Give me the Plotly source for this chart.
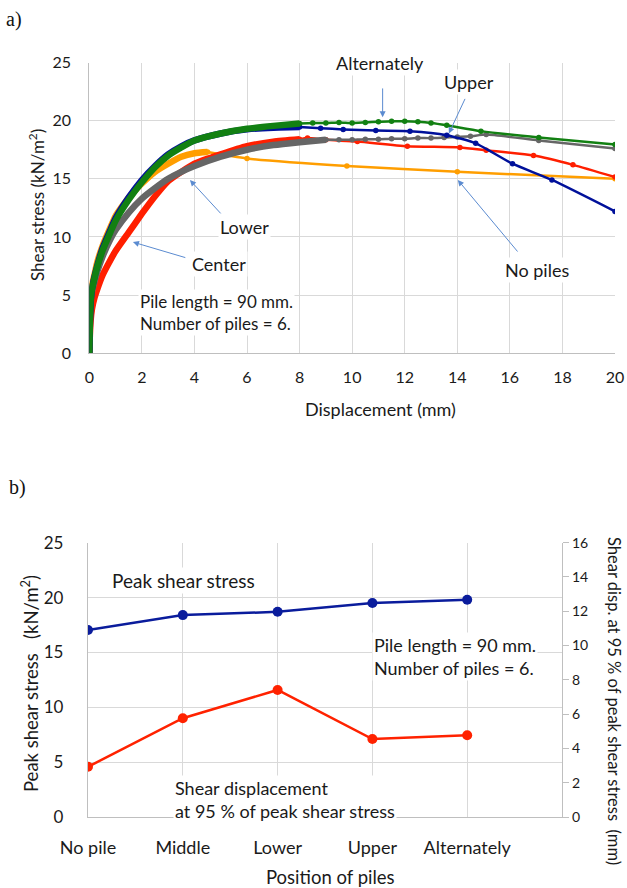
import plotly.graph_objects as go

# ---------------- Panel a) data: shear stress vs displacement ----------------
# dense (early, step-like) portion of each curve
nopile_dense_x = [0, 0.02, 0.05, 0.1, 0.2, 0.3, 0.5, 0.8, 1.0, 1.5, 2.0, 2.5, 3.0, 3.5, 4.0, 4.5]
nopile_dense_y = [0, 2.5, 4.5, 5.8, 6.8, 7.8, 9.2, 10.8, 11.8, 13.4, 14.6, 15.6, 16.3, 16.9, 17.2, 17.3]
nopile_x = [4.5, 6.0, 9.8, 14.0, 20.0]
nopile_y = [17.3, 16.75, 16.1, 15.6, 15.0]

center_dense_x = [0, 0.02, 0.05, 0.1, 0.2, 0.3, 0.5, 0.8, 1.0, 1.5, 2.0, 2.5, 3.0, 3.5, 4.0, 5.0, 6.0, 7.0, 8.0]
center_dense_y = [0, 1.5, 2.8, 3.8, 4.8, 5.5, 6.7, 8.0, 8.8, 10.4, 12.0, 13.5, 14.8, 15.6, 16.3, 17.1, 17.8, 18.2, 18.4]
center_x = [8.0, 8.3, 9.0, 10.2, 12.1, 14.1, 15.1, 16.9, 18.4, 20.0]
center_y = [18.4, 18.5, 18.35, 18.2, 17.8, 17.7, 17.45, 17.0, 16.2, 15.15]

lower_dense_x = [0, 0.02, 0.05, 0.1, 0.2, 0.3, 0.5, 0.8, 1.0, 1.5, 2.0, 2.5, 3.0, 3.5, 4.0, 5.0, 6.0, 7.0, 8.0, 9.0]
lower_dense_y = [0, 3.5, 4.5, 5.3, 6.2, 7.0, 8.3, 9.8, 10.6, 12.1, 13.3, 14.2, 15.0, 15.6, 16.1, 16.9, 17.5, 17.9, 18.15, 18.35]
lower_x = [9.0, 9.5, 10.0, 10.5, 11.0, 11.5, 12.0, 12.5, 13.0, 13.5, 14.0, 14.5, 15.1, 17.1, 20.0]
lower_y = [18.35, 18.35, 18.35, 18.4, 18.4, 18.45, 18.45, 18.5, 18.5, 18.55, 18.6, 18.65, 18.8, 18.3, 17.6]

upper_dense_x = [0, 0.02, 0.05, 0.1, 0.2, 0.3, 0.5, 0.8, 1.0, 1.5, 2.0, 2.5, 3.0, 3.5, 4.0, 5.0, 6.0, 7.0, 8.0]
upper_dense_y = [0, 2.3, 4.3, 5.5, 6.6, 7.5, 9.0, 10.6, 11.6, 13.4, 14.9, 16.1, 17.1, 17.8, 18.3, 18.9, 19.25, 19.4, 19.45]
upper_x = [8.0, 8.8, 9.66, 10.9, 12.2, 13.6, 14.7, 16.1, 17.6, 20.0]
upper_y = [19.45, 19.35, 19.25, 19.15, 19.1, 18.75, 18.05, 16.3, 14.9, 12.2]

alt_dense_x = [0, 0.02, 0.05, 0.1, 0.2, 0.3, 0.5, 0.8, 1.0, 1.5, 2.0, 2.5, 3.0, 3.5, 4.0, 5.0, 6.0, 7.0, 8.0]
alt_dense_y = [0, 2.5, 4.5, 5.5, 6.5, 7.4, 8.8, 10.4, 11.4, 13.2, 14.7, 16.0, 17.0, 17.7, 18.3, 18.9, 19.3, 19.55, 19.75]
alt_x = [8.0, 8.5, 9.0, 9.5, 10.0, 10.5, 11.0, 11.5, 12.0, 12.5, 13.0, 13.6, 14.9, 17.1, 20.0]
alt_y = [19.75, 19.8, 19.8, 19.85, 19.8, 19.85, 19.9, 19.95, 19.95, 19.9, 19.8, 19.6, 19.1, 18.55, 17.95]

# ---------------- Panel b) data ----------------
positions = ["No pile", "Middle", "Lower", "Upper", "Alternately"]
position_idx = [0, 1, 2, 3, 4]
peak_shear_stress = [17.05, 18.4, 18.7, 19.5, 19.8]
disp_95 = [2.93, 5.76, 7.41, 4.55, 4.77]

FONT = "Lato"
GRID = "#d9d9d9"
AXL = "#bfbfbf"

C_OR = "#ff9e00"
C_RD = "#ff1f00"
C_GY = "#666666"
C_BL = "#00109a"
C_GN = "#128012"

W = 627.0
H = 888.0

def fx(px):
    return px / W

def fy(py):
    return 1 - py / H

fig = go.Figure()

def add_curve(dx, dy, sx, sy, color):
    fig.add_trace(go.Scatter(x=sx, y=sy, mode="lines+markers",
                             line=dict(color=color, width=2.5, shape="spline", smoothing=0.6),
                             marker=dict(color=color, size=5.5),
                             xaxis="x", yaxis="y", showlegend=False, hoverinfo="skip"))
    fig.add_trace(go.Scatter(x=dx, y=dy, mode="lines",
                             line=dict(color=color, width=6.5, shape="spline", smoothing=0.5),
                             xaxis="x", yaxis="y", showlegend=False, hoverinfo="skip"))

add_curve(nopile_dense_x, nopile_dense_y, nopile_x, nopile_y, C_OR)
add_curve(center_dense_x, center_dense_y, center_x, center_y, C_RD)
add_curve(lower_dense_x, lower_dense_y, lower_x, lower_y, C_GY)
add_curve(upper_dense_x, upper_dense_y, upper_x, upper_y, C_BL)
add_curve(alt_dense_x, alt_dense_y, alt_x, alt_y, C_GN)

# bottom chart
fig.add_trace(go.Scatter(x=position_idx, y=peak_shear_stress, mode="lines+markers",
                         line=dict(color="#0a1c9c", width=2.5), marker=dict(color="#0a1c9c", size=10),
                         xaxis="x2", yaxis="y2", showlegend=False, hoverinfo="skip"))
fig.add_trace(go.Scatter(x=position_idx, y=disp_95, mode="lines+markers",
                         line=dict(color="#ff2200", width=2.5), marker=dict(color="#ff2200", size=10),
                         xaxis="x2", yaxis="y3", showlegend=False, hoverinfo="skip"))

fig.update_layout(
    width=int(W), height=int(H),
    margin=dict(l=0, r=0, t=0, b=0, autoexpand=False),
    paper_bgcolor="white", plot_bgcolor="white",
    font=dict(family=FONT, color="#1a1a1a"),
    xaxis=dict(domain=[fx(89.3), fx(615)], range=[0, 20], dtick=2, tick0=0, automargin=False,
               showgrid=True, gridcolor=GRID, gridwidth=1.3, zeroline=False,
               showline=True, linecolor=AXL, linewidth=1.3, ticklabeloverflow="allow",
               ticks="outside", ticklen=9, tickcolor="rgba(0,0,0,0)",
               tickfont=dict(size=16), anchor="y"),
    yaxis=dict(domain=[fy(353.3), fy(62.5)], range=[0, 25], dtick=5, tick0=0, automargin=False,
               showgrid=True, gridcolor=GRID, gridwidth=1.3, zeroline=False,
               showline=True, linecolor=AXL, linewidth=1.3, ticklabeloverflow="allow",
               ticks="outside", ticklen=14, tickcolor="rgba(0,0,0,0)",
               tickfont=dict(size=16), anchor="x"),
    xaxis2=dict(domain=[fx(88), fx(562)], range=[0, 5], automargin=False,
                tickmode="array", tickvals=position_idx, ticktext=positions,
                showgrid=True, gridcolor=GRID, gridwidth=1.3, zeroline=False,
                showline=True, linecolor=AXL, linewidth=1.3, ticklabeloverflow="allow",
                ticks="outside", ticklen=14, tickcolor="rgba(0,0,0,0)",
                tickfont=dict(size=18), anchor="y2"),
    yaxis2=dict(domain=[fy(817), fy(542.7)], range=[0, 25], dtick=5, tick0=0, automargin=False,
                showgrid=True, gridcolor=GRID, gridwidth=1.3, zeroline=False,
                showline=True, linecolor=AXL, linewidth=1.3, ticklabeloverflow="allow",
                ticks="outside", ticklen=20, tickcolor="rgba(0,0,0,0)",
                tickfont=dict(size=17), anchor="x2"),
    yaxis3=dict(domain=[fy(817), fy(542.7)], range=[0, 16], dtick=2, tick0=0, automargin=False,
                overlaying="y2", side="right", anchor="x2",
                showgrid=False, zeroline=False, ticklabeloverflow="allow",
                showline=True, linecolor=AXL, linewidth=1.3,
                ticks="outside", ticklen=6, tickcolor=AXL,
                tickfont=dict(size=14)),
)

ARROW = "#5b8bd0"
ann = []

def txt(x, y, text, size=14, xref="x", yref="y", xanchor="center", align="center", bg="white", **kw):
    ann.append(dict(x=x, y=y, xref=xref, yref=yref, text=text, showarrow=False,
                    font=dict(size=size, family=FONT, color="#1a1a1a"),
                    xanchor=xanchor, yanchor="middle", align=align, bgcolor=bg, **kw))

def arrow(tx, ty, hx, hy, xref="x", yref="y"):
    ann.append(dict(x=hx, y=hy, ax=tx, ay=ty, xref=xref, yref=yref, axref=xref, ayref=yref,
                    text="", showarrow=True, arrowhead=2, arrowsize=1.2, arrowwidth=1,
                    arrowcolor=ARROW, standoff=0, startstandoff=0))

# panel a annotations
txt(11.05, 24.95, "Alternately", size=18)
arrow(11.16, 22.9, 11.16, 20.3)
txt(14.43, 23.3, "Upper", size=18)
arrow(14.32, 22.0, 13.68, 18.9)
txt(5.92, 10.85, "Lower", size=18)
arrow(5.05, 11.9, 3.83, 14.89)
txt(4.93, 7.67, "Center", size=18)
arrow(3.71, 8.19, 1.66, 9.56)
txt(17.03, 7.16, "No piles", size=18)
arrow(16.34, 8.62, 14.02, 14.9)
txt(1.85, 3.55, "Pile length = 90 mm.<br>Number of piles = 6.", size=17, xanchor="left", align="left")

# panel b annotations
txt(0.232, 21.6, "Peak shear stress", size=19, xref="x2", yref="y2", xanchor="left", align="left")
txt(3.0, 14.6, "Pile length = 90 mm.<br>Number of piles = 6.", size=18, xref="x2", yref="y2",
    xanchor="left", align="left")
txt(0.9, 1.55, "Shear displacement<br>at 95 % of peak shear stress", size=18, xref="x2", yref="y2",
    xanchor="left", align="left")

# axis titles
txt(fx(36), fy(205), "Shear stress (kN/m<sup>2</sup>)", size=17, xref="paper", yref="paper",
    bg="rgba(0,0,0,0)", textangle=-90)
txt(fx(380), fy(409), "Displacement (mm)", size=18, xref="paper", yref="paper", bg="rgba(0,0,0,0)")
txt(fx(29), fy(684), "Peak shear stress   (kN/m<sup>2</sup>)", size=18.5, xref="paper", yref="paper",
    bg="rgba(0,0,0,0)", textangle=-90)
txt(fx(614), fy(701), "Shear disp. at 95 % of peak shear stress  (mm)", size=16.5, xref="paper",
    yref="paper", bg="rgba(0,0,0,0)", textangle=90)
txt(fx(330), fy(877), "Position of piles", size=18.5, xref="paper", yref="paper", bg="rgba(0,0,0,0)")

# panel labels
ann.append(dict(x=fx(14), y=fy(20), xref="paper", yref="paper", text="a)", showarrow=False,
                font=dict(size=20, family="Liberation Serif", color="#111"), xanchor="center", yanchor="middle"))
ann.append(dict(x=fx(17), y=fy(487), xref="paper", yref="paper", text="b)", showarrow=False,
                font=dict(size=20, family="Liberation Serif", color="#111"), xanchor="center", yanchor="middle"))

fig.update_layout(annotations=ann)
fig.write_html("out.html", config={"displayModeBar": False},
               post_script="document.body.style.margin='0';document.body.style.overflow='hidden';")
